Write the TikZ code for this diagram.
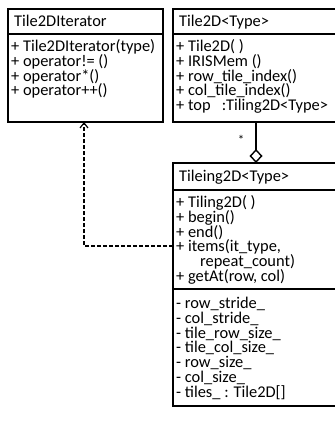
\documentclass[tikz,border=0pt]{standalone}
\usepackage{fontspec}
\setmainfont{Carlito}
\usetikzlibrary{arrows.meta}
\begin{document}
\begin{tikzpicture}[x=1pt,y=-1pt,
  umlbox/.style={draw, line width=1.4pt, inner sep=0pt, outer sep=0pt, anchor=north west},
  txt/.style={anchor=base west, inner sep=0pt, font=\fontsize{16.4}{16}\selectfont},
  sepline/.style={line width=1.4pt},
  titlesep/.style={line width=2.4pt},
  conn/.style={line width=1.4pt}]
\useasboundingbox (0,0) rectangle (334,422);
% boxes
\node[umlbox, minimum width=155pt, minimum height=113pt] (b1) at (8,9) {};
\node[umlbox, minimum width=163pt, minimum height=113pt] (b2) at (173,9) {};
\node[umlbox, minimum width=163pt, minimum height=243pt] (b3) at (173,163) {};
% separators
\draw[titlesep] ([yshift=-25pt]b1.north west) -- ([yshift=-25pt]b1.north east);
\draw[titlesep] ([yshift=-25pt]b2.north west) -- ([yshift=-25pt]b2.north east);
\draw[titlesep] ([yshift=-27pt]b3.north west) -- ([yshift=-27pt]b3.north east);
\draw[sepline] ([yshift=-126pt]b3.north west) -- ([yshift=-126pt]b3.north east);
% box 1 text
\node[txt] (t1) at (14,26.5) {Tile2DIterator};
\node[txt] (t1a) at (11,51.5) {+ Tile2DIterator(type)};
\node[txt] (t1b) at (11,66.3) {+ operator!= ()};
\node[txt] (t1c) at (11,81.1) {+ operator*()};
\node[txt] (t1d) at (11,95.9) {+ operator++()};
% box 2 text
\node[txt] (t2) at (179,26.5) {Tile2D<Type>};
\node[txt] (t2a) at (176,51.5) {+ Tile2D( )};
\node[txt] (t2b) at (176,66.3) {+ IRISMem ()};
\node[txt] (t2c) at (176,81.1) {+ row\_tile\_index()};
\node[txt] (t2d) at (176,95.9) {+ col\_tile\_index()};
\node[txt] (t2e) at (176,110.7) {+ top\ \ \ :Tiling2D<Type>};
% box 3 text
\node[txt] (t3) at (179,181.5) {Tileing2D<Type>};
\node[txt] (t3a) at (176,207.5) {+ Tiling2D( )};
\node[txt] (t3b) at (176,222.3) {+ begin()};
\node[txt] (t3c) at (176,237.1) {+ end()};
\node[txt] (t3d) at (176,251.9) {+ items(it\_type,};
\node[txt] (t3e) at (200,266.7) {repeat\_count)};
\node[txt] (t3f) at (176,281.5) {+ getAt(row, col)};
\node[txt] (t3g) at (176,308.5) {- row\_stride\_};
\node[txt] (t3h) at (176,323.3) {- col\_stride\_};
\node[txt] (t3i) at (176,338.1) {- tile\_row\_size\_};
\node[txt] (t3j) at (176,352.9) {- tile\_col\_size\_};
\node[txt] (t3k) at (176,367.7) {- row\_size\_};
\node[txt] (t3l) at (176,382.5) {- col\_size\_};
\node[txt] (t3m) at (176,397.3) {- tiles\_ : Tile2D[]};
% connectors
\draw[conn, -{Diamond[open, length=14pt, width=13pt, line width=1.4pt]}]
  ([xshift=83pt]b2.south west) -- ([xshift=83pt]b3.north west);
\node[inner sep=0pt, font=\fontsize{13}{13}\selectfont] (star) at (241,140) {*};
\draw[line width=1.2pt, dash pattern=on 4pt off 2pt, -{Straight Barb[length=5pt, width=8pt]}]
  ([yshift=-83pt]b3.north west) -| ([xshift=76pt]b1.south west);
\end{tikzpicture}
\end{document}
